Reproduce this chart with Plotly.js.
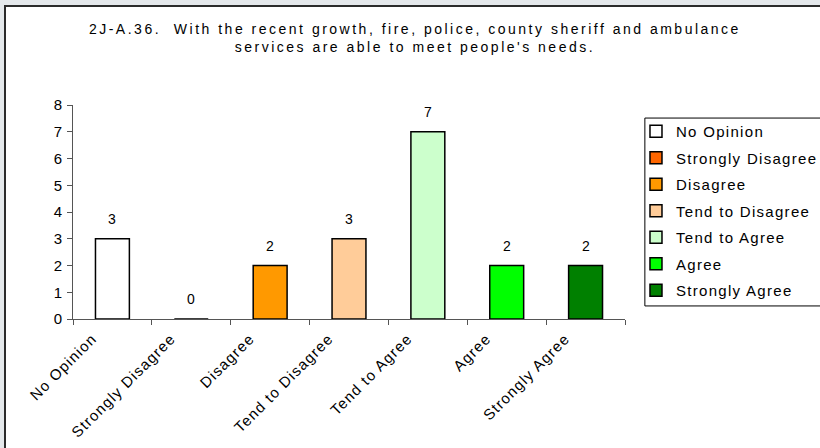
<!DOCTYPE html>
<html>
<head>
<meta charset="utf-8">
<script src="https://cdn.plot.ly/plotly-3.0.1.min.js"></script>
<style>
  html, body { margin: 0; padding: 0; background: #e4e8eb; width: 820px; height: 448px; overflow: hidden; }
  #panel { position: absolute; left: 4px; top: 5px; width: 830px; height: 460px; background: #fff; border: 2px solid #2b2b2b; box-sizing: border-box; }
  #chart { position: absolute; left: 0; top: 0; width: 820px; height: 448px; }
  .gtitle { letter-spacing: 2.5px; }
  .legendtext { letter-spacing: 1.3px; }
  .xtick text { letter-spacing: 1.2px; }
</style>
</head>
<body>
<div id="panel"></div>
<div id="chart"></div>
<script>
const categories = ["No Opinion", "Strongly Disagree", "Disagree", "Tend to Disagree", "Tend to Agree", "Agree", "Strongly Agree"];
const counts = [3, 0, 2, 3, 7, 2, 2];
const colors = ["#FFFFFF", "#FF6600", "#FF9900", "#FFCC99", "#CCFFCC", "#00FF00", "#008000"];
const yTicks = [0, 1, 2, 3, 4, 5, 6, 7, 8];
const titleText = "2J-A.36.\u00A0 With the recent growth, fire, police, county sheriff and ambulance<br>services are able to meet people's needs.";

const font = "Arial, 'Liberation Sans', sans-serif";

const traces = categories.map((c, i) => ({
  type: "bar",
  name: c,
  x: [c],
  y: [counts[i]],
  width: 0.43,
  legendgroup: "g" + i,
  marker: { color: colors[i], line: { color: "#000", width: 1.5 } },
  hoverinfo: "x+y"
}));

const annotations = categories.map((c, i) => ({
  x: c, y: counts[i], xref: "x", yref: "y",
  text: String(counts[i]), showarrow: false,
  yanchor: "bottom", yshift: 10,
  font: { family: font, size: 14, color: "#000" }
}));

const layout = {
  width: 820, height: 448,
  margin: { l: 73, r: 195, t: 105, b: 129, autoexpand: false },
  paper_bgcolor: "rgba(0,0,0,0)",
  plot_bgcolor: "#fff",
  font: { family: font, size: 14, color: "#000" },
  title: {
    text: titleText,
    x: 0.506, xref: "container", xanchor: "center",
    y: 0.924, yref: "container", yanchor: "top",
    font: { family: font, size: 14, color: "#000" }
  },
  barmode: "overlay",
  showlegend: true,
  legend: {
    x: 1.0199, xanchor: "left", y: 0.953, yanchor: "top",
    borderwidth: 0, bgcolor: "rgba(0,0,0,0)",
    font: { family: font, size: 15, color: "#000" },
    traceorder: "grouped", tracegroupgap: 4,
    itemwidth: 30
  },
  shapes: [{
    type: "rect", xref: "paper", yref: "paper",
    x0: 1.036, x1: 1.45, y0: 0.061, y1: 0.939,
    line: { color: "#000", width: 1 }, fillcolor: "rgba(0,0,0,0)", layer: "below"
  }],
  xaxis: {
    type: "category",
    categoryorder: "array", categoryarray: categories,
    tickangle: -45,
    tickson: "boundaries",
    ticks: "outside", ticklen: 5, tickcolor: "#555",
    ticklabelshift: -20,
    ticklabelstandoff: 4,
    showline: true, linecolor: "#555", linewidth: 1,
    showgrid: false, zeroline: false,
    tickfont: { family: font, size: 15, color: "#000" }
  },
  yaxis: {
    range: [0, 8],
    tickvals: yTicks,
    ticks: "outside", ticklen: 5, tickcolor: "#555",
    ticklabelstandoff: 2,
    showline: true, linecolor: "#555", linewidth: 1,
    showgrid: false, zeroline: false,
    tickfont: { family: font, size: 15, color: "#000" }
  },
  annotations: annotations
};

Plotly.newPlot("chart", traces, layout, { displayModeBar: false, staticPlot: true });
</script>
</body>
</html>
